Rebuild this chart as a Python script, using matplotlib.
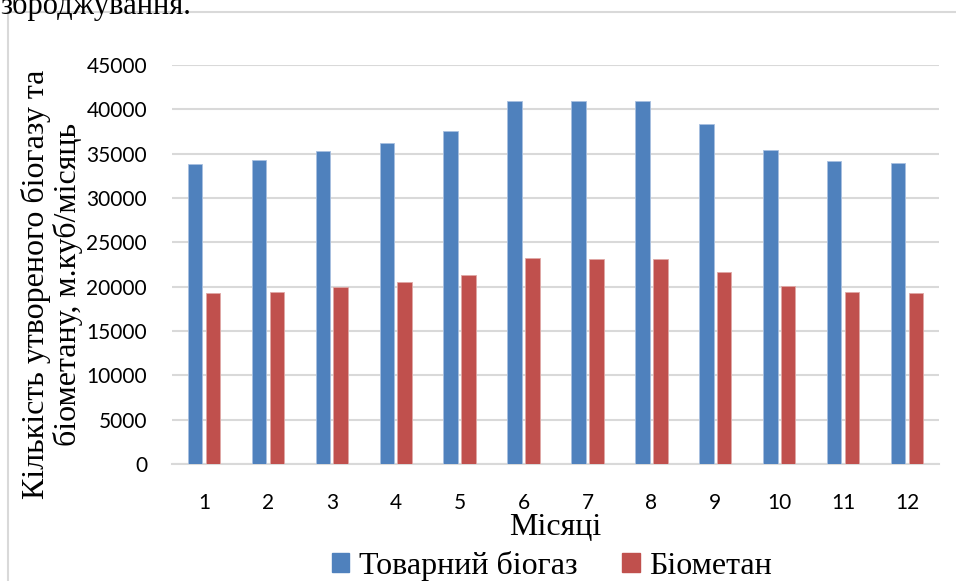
import numpy as np
import matplotlib.pyplot as plt
from matplotlib.patches import Rectangle, Patch

# Дані (м.куб/місяць)
misyatsi = [1, 2, 3, 4, 5, 6, 7, 8, 9, 10, 11, 12]
biogaz = [33850, 34280, 35300, 36240, 37520, 40970, 40940, 40940, 38310, 35450, 34170, 33950]
biometan = [19250, 19430, 20000, 20530, 21280, 23200, 23160, 23160, 21650, 20080, 19370, 19250]

kolir_biogaz = "#4F81BD"
kolir_biometan = "#C0504D"
serif = "Liberation Serif"
sans = "Lato"

fig = plt.figure(figsize=(9.56, 5.81), dpi=100)

# рамка діаграми (права та нижня сторони обрізані)
fig.patches.append(Rectangle((8 / 956, -0.1), 1.2, 1 - 12 / 581 + 0.1,
                             transform=fig.transFigure, fill=False,
                             edgecolor="#d9d9d9", linewidth=1.5))

# обрізаний текст документа над діаграмою
fig.text(0.0, 1 - 14 / 581, "зброджування.", family=serif, fontsize=22,
         va="baseline", ha="left")

ax = fig.add_axes([172 / 956, 1 - 464 / 581, (939 - 172) / 956, (464 - 65) / 581])

x = np.array(misyatsi)
shyryna = 0.227
ax.bar(x - 0.14, biogaz, shyryna, color=kolir_biogaz, edgecolor="#a8c0e0",
       linewidth=0.6, zorder=3)
ax.bar(x + 0.14, biometan, shyryna, color=kolir_biometan, edgecolor="#e0a8a6",
       linewidth=0.6, zorder=3)

ax.set_xlim(0.5, 12.5)
ax.set_ylim(0, 45000)
ax.set_yticks(np.arange(0, 45001, 5000))
ax.set_xticks(x)
ax.set_xticklabels([str(m) for m in misyatsi])
ax.grid(axis="y", color="#d9d9d9", linewidth=1.5, zorder=0)
for s in ["top", "right", "left"]:
    ax.spines[s].set_visible(False)
ax.spines["bottom"].set_color("#d9d9d9")
ax.spines["bottom"].set_linewidth(1.5)
ax.tick_params(axis="both", length=0, labelsize=15)
ax.tick_params(axis="y", pad=18)
ax.tick_params(axis="x", pad=21)
for lbl in ax.get_xticklabels() + ax.get_yticklabels():
    lbl.set_family(sans)

ax.set_xlabel("Місяці", family=serif, fontsize=23, labelpad=0)

fig.text(52 / 956, 1 - 284 / 581,
         "Кількість утвореного біогазу та\nбіометану, м.куб/місяць",
         rotation=90, ha="center", va="center", ma="center",
         family=serif, fontsize=23, linespacing=1.05)

ruchky = [Patch(color=kolir_biogaz, label="Товарний біогаз"),
          Patch(color=kolir_biometan, label="Біометан")]
fig.legend(handles=ruchky, loc="center", bbox_to_anchor=(552 / 956, 1 - 566 / 581),
           ncol=2, frameon=False, prop={"family": serif, "size": 23},
           handlelength=0.55, handleheight=0.55, handletextpad=0.3,
           columnspacing=1.4)

fig.savefig("out.png", dpi=100)
